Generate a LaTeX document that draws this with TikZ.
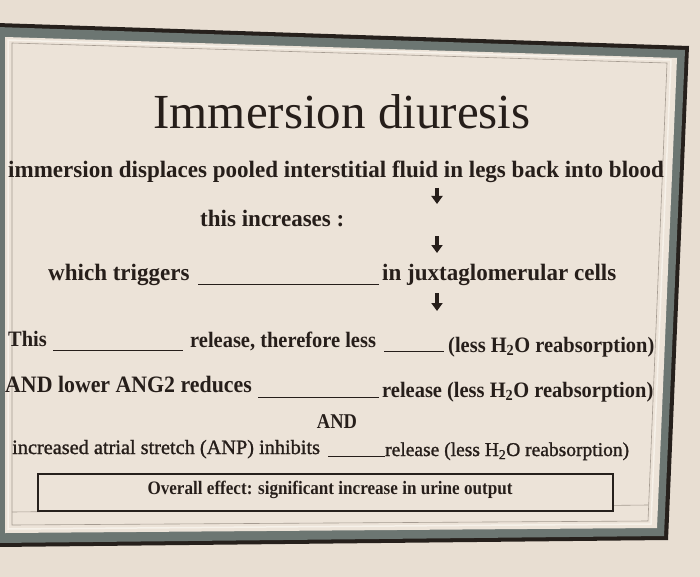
\documentclass[tikz,border=0pt]{standalone}
\usepackage{fontspec}
\setmainfont{Liberation Serif}
\newfontfamily\titlefont{Liberation Serif}
\newfontfamily\topfont[FakeStretch=0.98]{Liberation Serif}
\newfontfamily\midfont[FakeStretch=0.93]{Liberation Serif}
\newfontfamily\andfont[FakeStretch=0.88]{Liberation Serif}
\newfontfamily\boxfont[FakeStretch=0.9]{Liberation Serif}
\newfontfamily\lastfont[FakeBold=1.2]{Liberation Serif}
\usetikzlibrary{arrows.meta}
\definecolor{bg}{RGB}{232,222,210}
\definecolor{paper}{RGB}{236,227,216}
\definecolor{band}{RGB}{108,118,114}
\definecolor{darkline}{RGB}{38,32,28}
\definecolor{ink}{RGB}{38,30,26}
\definecolor{thinline}{RGB}{165,155,145}
\definecolor{lightline}{RGB}{246,241,233}
\tikzset{
  toptext/.style={anchor=base west, inner sep=0pt, text=ink, font=\topfont\bfseries\fontsize{23.5}{26}\selectfont},
  midtext/.style={anchor=base west, inner sep=0pt, text=ink, font=\midfont\bfseries\fontsize{22}{25}\selectfont},
  last/.style={anchor=base west, inner sep=0pt, text=ink, font=\lastfont\fontsize{20.3}{23}\selectfont},
  blank/.style={draw=ink, line width=1pt},
  downarrow/.style={draw=ink, line width=3.2pt, -{Triangle[width=11pt,length=8pt]}},
}
\begin{document}
\begin{tikzpicture}[x=1pt,y=-1pt]
\useasboundingbox (0,0) rectangle (700,577);
\fill[bg] (0,0) rectangle (700,577);
% frame
\fill[darkline] (-3,23) -- (689,46) -- (668,540) -- (-3,547) -- cycle;
\fill[band] (-3,27) -- (685,50) -- (664,536) -- (-3,543) -- cycle;
\fill[paper] (5,37) -- (677,58) -- (657,528) -- (5,533) -- cycle;
\draw[lightline, line width=1.5pt] (8,40) -- (671,60) -- (651,524) -- (8,529) -- cycle;
\draw[thinline, line width=0.6pt] (12,43) -- (667,63) -- (648,521) -- (12,525) -- cycle;
\draw[thinline, line width=0.6pt] (12,512) -- (648,505);

% title
\node[anchor=base, inner sep=0pt, text=ink, font=\titlefont\fontsize{49}{53}\selectfont] (title) at (342,129) {Immersion diuresis};

% line 1
\node[toptext] (l1) at (8,178) {immersion displaces pooled interstitial fluid in legs back into blood};
\coordinate (a1s) at (437,188);
\coordinate (a1e) at (437,204);
\draw[downarrow] (a1s) -- (a1e);

% line 2
\node[toptext] (l2) at (200,226) {this increases :};
\coordinate (a2s) at (437,236);
\coordinate (a2e) at (437,253);
\draw[downarrow] (a2s) -- (a2e);

% line 3
\node[toptext] (l3a) at (48,280) {which triggers};
\coordinate (b3s) at (198,284);
\coordinate (b3e) at (379,284);
\draw[blank] (b3s) -- (b3e);
\node[toptext] (l3b) at (382,280) {in juxtaglomerular cells};
\coordinate (a3s) at (437,293);
\coordinate (a3e) at (437,311);
\draw[downarrow] (a3s) -- (a3e);

% line 4
\node[midtext] (l4a) at (8,346) {This};
\coordinate (b4s) at (53,350);
\coordinate (b4e) at (183,350);
\draw[blank] (b4s) -- (b4e);
\node[midtext] (l4b) at (190,347) {release, therefore less};
\coordinate (b5s) at (384,351);
\coordinate (b5e) at (444,351);
\draw[blank] (b5s) -- (b5e);
\node[midtext] (l4c) at (448,352) {(less H\textsubscript{2}O reabsorption)};

% line 5
\node[midtext, font=\midfont\bfseries\fontsize{23.5}{26}\selectfont] (l5a) at (5,392) {AND lower ANG2 reduces};
\coordinate (b6s) at (258,397);
\coordinate (b6e) at (379,397);
\draw[blank] (b6s) -- (b6e);
\node[midtext] (l5b) at (382,397) {release (less H\textsubscript{2}O reabsorption)};

% AND
\node[anchor=base, inner sep=0pt, text=ink, font=\andfont\bfseries\fontsize{21}{24}\selectfont] (and) at (337,428) {AND};

% line 6
\node[last] (l6a) at (12,454) {increased atrial stretch (ANP) inhibits};
\coordinate (b7s) at (328,456);
\coordinate (b7e) at (385,456);
\draw[blank] (b7s) -- (b7e);
\node[last, font=\lastfont\fontsize{19.5}{23}\selectfont] (l6b) at (385,456) {release (less H\textsubscript{2}O reabsorption)};

% overall box
\node[draw=darkline, line width=1.4pt, fill=paper, minimum width=575pt, minimum height=37pt, inner sep=0pt] (box) at (325.5,492.5) {};
\node[anchor=base, inner sep=0pt, text=ink, font=\boxfont\bfseries\fontsize{19}{22}\selectfont] (overall) at (330,494) {Overall effect: significant increase in urine output};
\end{tikzpicture}
\end{document}
